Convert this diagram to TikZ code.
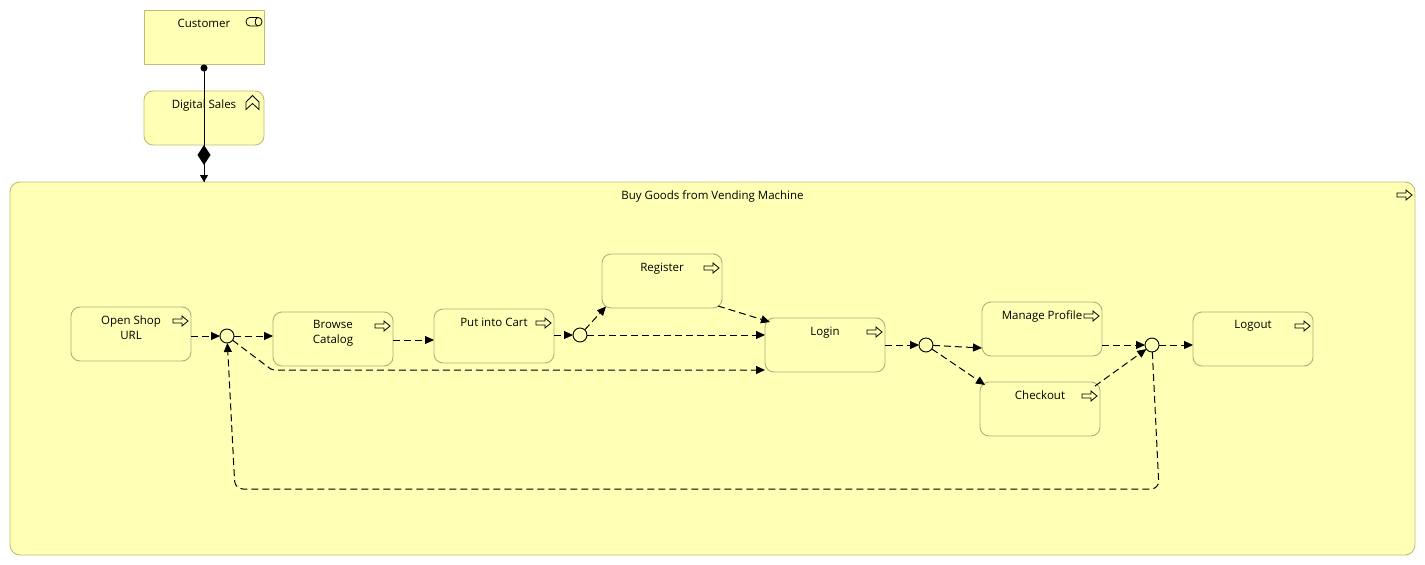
\documentclass[tikz,border=0pt]{standalone}
\usepackage{fontspec}
\setmainfont{Open Sans}
\usetikzlibrary{arrows.meta}
\definecolor{elemfill}{HTML}{FFFFB5}
\definecolor{outerline}{HTML}{BDBD78}
\definecolor{innerline}{HTML}{B0B07E}
\tikzset{
  x=1pt,y=-1pt,
  baseelem/.style={draw=outerline,fill=elemfill,line width=.9pt,minimum width=120pt,minimum height=54pt,inner sep=0pt,outer sep=0pt},
  actorbox/.style={baseelem},
  capbox/.style={baseelem,rounded corners=9pt},
  groupbox/.style={baseelem,rounded corners=10pt,minimum width=1405pt,minimum height=373pt},
  procbox/.style={baseelem,draw=innerline,rounded corners=9pt},
  junction/.style={circle,draw=black,fill=elemfill,line width=.9pt,minimum size=14pt,inner sep=0pt,outer sep=0pt},
  lab/.style={anchor=north,align=center,font=\fontsize{11.5pt}{15pt}\selectfont,inner sep=0pt,yshift=-8.5pt},
  flow/.style={draw=black,line width=1pt,dash pattern=on 7pt off 4pt,-{Triangle[length=9pt,width=8pt]}},
  icon/.style={draw=black,line width=.8pt,fill=none,line join=miter},
}
\newcommand{\procicon}[1]{%
  \draw[icon] ([shift={(-18pt,-9pt)}]#1.north east) ++(0,3) -- ++(9,0) -- ++(0,-3) -- ++(6,5) -- ++(-6,5) -- ++(0,-3) -- ++(-9,0) -- cycle;}
\begin{document}
\begin{tikzpicture}
\useasboundingbox (0,0) rectangle (1425,565);
% elements
\node[actorbox] (customer) at (204,37.5) {};
\node[capbox] (sales) at (204,118) {};
\node[groupbox] (group) at (712.5,368.5) {};
\node[lab] (customerT) at (customer.north) {Customer};
\node[lab] (salesT) at (sales.north) {Digital Sales};
\node[lab] (groupT) at (group.north) {Buy Goods from Vending Machine};
\node[procbox] (open) at (131,334) {};
\node[procbox] (browse) at (333,339) {};
\node[procbox] (cart) at (494,336) {};
\node[procbox] (register) at (662,281) {};
\node[procbox] (login) at (825,345) {};
\node[procbox] (manage) at (1042,329) {};
\node[procbox] (checkout) at (1040,409) {};
\node[procbox] (logout) at (1253,339) {};
\node[lab] (openT) at (open.north) {Open Shop\\URL};
\node[lab] (browseT) at (browse.north) {Browse\\Catalog};
\node[lab] (cartT) at (cart.north) {Put into Cart};
\node[lab] (registerT) at (register.north) {Register};
\node[lab] (loginT) at (login.north) {Login};
\node[lab] (manageT) at (manage.north) {Manage Profile};
\node[lab] (checkoutT) at (checkout.north) {Checkout};
\node[lab] (logoutT) at (logout.north) {Logout};
\node[junction] (j1) at (227,336) {};
\node[junction] (j2) at (580,335) {};
\node[junction] (j3) at (926,345) {};
\node[junction] (j4) at (1152,345) {};
% icons
\procicon{open}\procicon{browse}\procicon{cart}\procicon{register}\procicon{login}\procicon{manage}\procicon{checkout}\procicon{logout}
\draw[icon] ([shift={(-18pt,-8pt)}]group.north east) ++(0,3) -- ++(9,0) -- ++(0,-3) -- ++(6,5) -- ++(-6,5) -- ++(0,-3) -- ++(-9,0) -- cycle;
\draw[icon,rounded corners=4pt] (246,17.5) rectangle (262,26);
\draw[icon] (257.5,17.5) .. controls (254.5,19) and (254.5,24.5) .. (257.5,26);
\draw[icon] (246,109.5) -- (246,102) -- (252.5,95.5) -- (259,102) -- (259,109.5) -- (252.5,103.5) -- cycle;
% top connectors
\draw[line width=1pt,{Circle[length=7pt,width=7pt]}-{Triangle[length=7pt,width=8pt]}] (customer.south) -- (group.north -| customer.south);
\draw[line width=1pt,{Diamond[length=20pt,width=13pt]}-] (sales.south) -- (group.north -| sales.south);
% flows
\draw[flow] (open.east |- j1) -- (j1);
\draw[flow] (j1) -- (browse.west |- j1);
\draw[flow] ([yshift=-1pt]browse.east) -- ([yshift=-1pt]browse.east -| cart.west);
\draw[flow] (cart.east |- j2) -- (j2);
\draw[flow] (j2) -- ([shift={(4pt,1.5pt)}]register.south west);
\draw[flow] ([shift={(-4pt,2pt)}]register.south east) -- ([shift={(5pt,-4pt)}]login.north west);
\draw[flow] (j2) -- (login.west |- j2);
\draw[flow,rounded corners=2pt] (j1) -- (272,370) -- (login.west |- 0,370);
\draw[flow] (login.east |- j3) -- (j3);
\draw[flow] (j3) -- ([yshift=-19pt]manage.west);
\draw[flow] (j3) -- ([shift={(5pt,-3pt)}]checkout.north west);
\draw[flow] (manage.east |- j4) -- (j4);
\draw[flow] ([shift={(-5pt,-4pt)}]checkout.north east) -- (j4);
\draw[flow] (j4) -- (logout.west |- j4);
\draw[flow,rounded corners=8pt] (j4) -- (1159,489) -- (235,489) -- (j1);
\end{tikzpicture}
\end{document}
